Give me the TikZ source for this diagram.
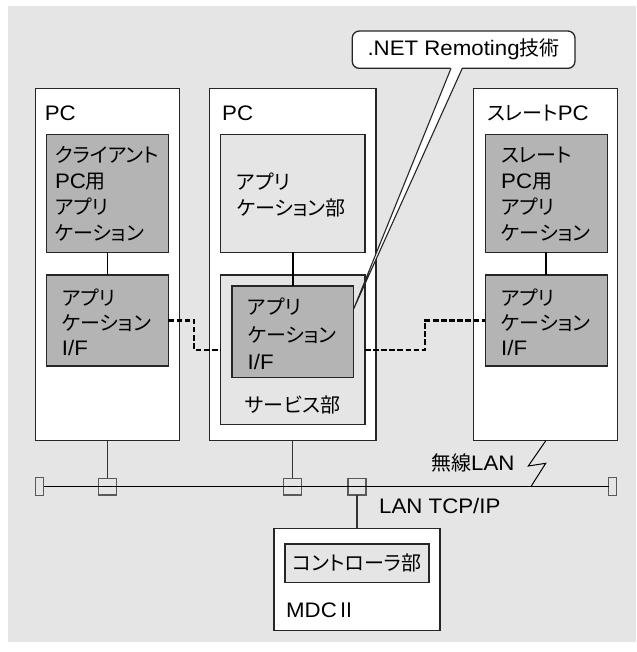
\documentclass[tikz,border=0pt]{standalone}
\usepackage{fontspec}
\setmainfont{Liberation Sans}[FakeStretch=1.06]
\newfontfamily\jp{Noto Sans CJK JP}[RawFeature=+palt, Scale=0.952]
\usetikzlibrary{calc}
\definecolor{bgc}{gray}{0.90}
\definecolor{dk}{gray}{0.706}
\definecolor{edge}{gray}{0.15}
\definecolor{sqedge}{gray}{0.35}
\begin{document}
\begin{tikzpicture}[x=1pt,y=-1pt,
  box/.style={draw=edge, line width=1.3pt, fill=white, inner sep=0pt, outer sep=0pt},
  darkbox/.style={box, fill=dk},
  lightbox/.style={box, fill=bgc},
  sqbox/.style={draw=sqedge, line width=1.3pt, inner sep=0pt, outer sep=0pt},
  conn/.style={draw=black, line width=1.7pt},
  dashline/.style={draw=black, line width=2.1pt, dash pattern=on 5.5pt off 2.6pt},
  txt/.style={inner sep=0pt, align=left, font=\fontsize{21}{26}\selectfont}
]
\useasboundingbox (0,0) rectangle (636,652);
\fill[bgc] (8,6) rectangle (636,642);

% outer boxes
\node[box, minimum width=143.6pt, minimum height=352.4pt] (pc1) at (107.5,264.5) {};
\node[box, minimum width=166.7pt, minimum height=352.4pt] (pc2) at (292.65,264.5) {};
\node[box, minimum width=144pt, minimum height=352.4pt] (pc3) at (545.8,264.5) {};

% inner boxes
\node[darkbox, minimum width=121.7pt, minimum height=118pt] (app1) at (107.55,193.3) {};
\node[darkbox, minimum width=121.7pt, minimum height=91pt] (if1) at (107.55,320.5) {};
\node[lightbox, minimum width=144.7pt, minimum height=118pt] (app2) at (292.65,193.3) {};
\node[lightbox, minimum width=144.7pt, minimum height=149.3pt] (svc) at (292.65,349.65) {};
\node[darkbox, minimum width=121.7pt, minimum height=91.3pt] (if2) at (292.85,331.65) {};
\node[darkbox, minimum width=122.1pt, minimum height=118pt] (app3) at (546.25,193.3) {};
\node[darkbox, minimum width=122.1pt, minimum height=91pt] (if3) at (546.25,320.5) {};

% vertical links
\draw[conn] (app1.south) -- (if1.north);
\draw[conn] (app2.south) -- (app2.south |- if2.north);
\draw[conn] (app3.south) -- (if3.north);

% dashed links
\draw[dashline] (if1.east) -| ($(if1.east)!.5!(svc.west)$) |- (svc.west);
\draw[dashline] (svc.east) -| ($(svc.east)!.5!(if3.west)$) |- (if3.west);

% network
\node[sqbox, minimum width=8pt, minimum height=17.6pt] (capL) at (39.8,486.5) {};
\node[sqbox, minimum width=8pt, minimum height=17.6pt] (capR) at (612.8,486.5) {};
\node[sqbox, minimum width=17.8pt, minimum height=16.7pt] (sq1) at (107.5,486.5) {};
\node[sqbox, minimum width=17.8pt, minimum height=16.7pt] (sq2) at (292.65,486.5) {};
\node[sqbox, minimum width=17.8pt, minimum height=16.7pt] (sq3) at (357,486.5) {};
\draw[draw=black, line width=1.2pt] (capL.east) -- (capR.west);
\draw[draw=black!80, line width=1.1pt] (pc1.south) -- (sq1.north);
\draw[draw=black!80, line width=1.1pt] (pc2.south) -- (sq2.north);
\coordinate (zz) at (531,486.5);
\draw[draw=black, line width=1pt] (pc3.south) -- (528.3,466) -- (545.7,463.3) -- (zz);

% MDC
\node[box, minimum width=166pt, minimum height=102.4pt] (mdc) at (357,579.5) {};
\node[lightbox, minimum width=144pt, minimum height=38.3pt] (ctrl) at (357,563.15) {};
\draw[draw=black!80, line width=1.1pt] (sq3.south) -- (mdc.north);

% callout
\node[box, rounded corners=7pt, minimum width=222.7pt, minimum height=37.3pt, txt] (call) at (463.6,49.7) {.NET Remoting{\jp 技術}};
\coordinate (tip) at ($(if2.north east)!0.25!(if2.south east)$);
\fill[white] ([xshift=-12.6pt,yshift=1.3pt]call.south) -- (tip) -- ([xshift=-1.3pt,yshift=1.3pt]call.south) -- cycle;
\draw[draw=edge, line width=1.1pt] ([xshift=-12.6pt]call.south) -- (tip) -- ([xshift=-1.3pt]call.south);

% texts
\node[txt, anchor=west] (l1) at (44.6,113) {PC};
\node[txt, anchor=west] (l2) at (222,113) {PC};
\node[txt, anchor=west] (l3) at (487,113) {{\jp スレート}PC};
\node[txt, anchor=west] (t1) at (54.8,194) {{\jp クライアント}\\PC{\jp 用}\\{\jp アプリ}\\{\jp ケーション}};
\node[txt, anchor=west] (t2) at (236.5,195) {{\jp アプリ}\\{\jp ケーション部}};
\node[txt, anchor=west] (t3) at (501,194) {{\jp スレート}\\PC{\jp 用}\\{\jp アプリ}\\{\jp ケーション}};
\node[txt, anchor=west, font=\fontsize{21}{25}\selectfont] (i1) at (61.7,322) {{\jp アプリ}\\{\jp ケーション}\\I/F};
\node[txt, anchor=west, font=\fontsize{21}{27.5}\selectfont] (i2) at (247.5,334) {{\jp アプリ}\\{\jp ケーション}\\I/F};
\node[txt, anchor=west, font=\fontsize{21}{25}\selectfont] (i3) at (501,322) {{\jp アプリ}\\{\jp ケーション}\\I/F};
\node[txt] (s1) at (292.7,405) {\jp サービス部};
\node[txt] (c1) at (ctrl) {\jp コントローラ部};
\node[txt, anchor=west] (m1) at (286,610) {MDC{\jp Ⅱ}};
\node[txt, anchor=west] (n1) at (379,506) {LAN TCP/IP};
\node[txt, anchor=west] (w1) at (431,463) {{\jp 無線}LAN};
\end{tikzpicture}
\end{document}
